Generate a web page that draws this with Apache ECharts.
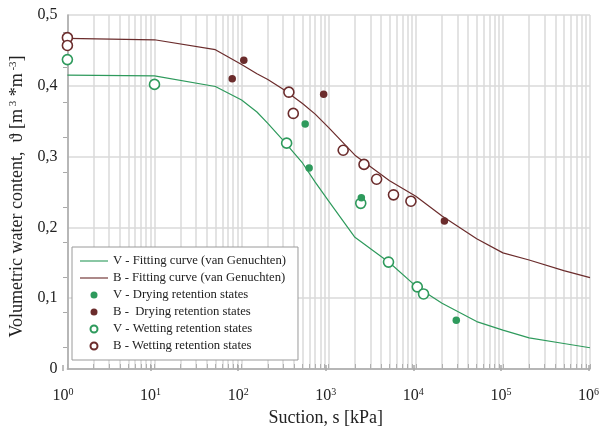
<!DOCTYPE html>
<html>
<head>
<meta charset="utf-8">
<script src="https://cdn.jsdelivr.net/npm/echarts@6/dist/echarts.min.js"></script>
<style>
  html, body { margin: 0; padding: 0; background: #fff; }
  #chart { width: 602px; height: 432px; }
</style>
</head>
<body>
<div id="chart"></div>
<script>
// Suction [kPa] and volumetric water content for the fitted retention curves
const curveSuction = [1, 10, 50, 100, 150, 200, 300, 500, 700, 1000, 2000, 5000, 10000, 20000, 50000, 100000, 200000, 500000, 1000000];
const curveV = [0.415, 0.414, 0.399, 0.380, 0.363, 0.347, 0.323, 0.291, 0.264, 0.237, 0.186, 0.150, 0.117, 0.093, 0.067, 0.055, 0.044, 0.036, 0.030];
const curveB = [0.467, 0.465, 0.451, 0.430, 0.417, 0.409, 0.395, 0.375, 0.360, 0.341, 0.302, 0.266, 0.244, 0.216, 0.184, 0.164, 0.154, 0.139, 0.129];

// Measured retention states: suction [kPa]
const vDryS = [537, 596, 2371, 29150];
const vDryT = [0.346, 0.284, 0.242, 0.069];
const bDryS = [78, 106, 875, 21300];
const bDryT = [0.410, 0.436, 0.388, 0.209];
const vWetS = [1, 10, 329, 2333, 4860, 10400, 12270];
const vWetT = [0.437, 0.402, 0.319, 0.234, 0.151, 0.116, 0.106];
const bWetS = [1, 1, 349, 392, 1466, 2543, 3548, 5546, 8790];
const bWetT = [0.468, 0.457, 0.391, 0.361, 0.309, 0.289, 0.268, 0.246, 0.237];

// Axis ticks
const xDecadeExponents = [0, 1, 2, 3, 4, 5, 6];
const yTickLabels = ['0', '0,1', '0,2', '0,3', '0,4', '0,5'];
const yMinorTicks = [0.025, 0.075, 0.125, 0.175, 0.225, 0.275, 0.325, 0.375, 0.425, 0.475];

const seriesNames = [
  'V - Fitting curve (van Genuchten)',
  'B - Fitting curve (van Genuchten)',
  'V - Drying retention states',
  'B -  Drying retention states',
  'V - Wetting retention states',
  'B - Wetting retention states'
];

const GREEN = '#2e9a5c';
const BROWN = '#6b2c2c';
const FONT = 'Liberation Serif';
// thin horizontal bar used as the legend key for the fitted curves
const LINE_ICON = 'path://M0 0H30V1.2H0Z';

const zip = (xs, ys) => xs.map((x, i) => [x, ys[i]]);
const decades = xDecadeExponents.map(e => Math.pow(10, e));
// every 1..9 x 10^k position for the fine log grid
const logGrid = [];
for (let e = 0; e < 6; e++) {
  for (let m = 1; m < 10; m++) logGrid.push(m * Math.pow(10, e));
}
logGrid.push(Math.pow(10, 6));

const gridRect = { left: 63, right: 12, top: 15, bottom: 63 };

const chart = echarts.init(document.getElementById('chart'), null, { renderer: 'canvas' });
chart.setOption({
  animation: false,
  backgroundColor: '#fff',
  textStyle: { fontFamily: FONT },
  grid: [
    Object.assign({ containLabel: false }, gridRect),
    Object.assign({ containLabel: false }, gridRect)
  ],
  xAxis: [
    {
      type: 'log', logBase: 10, min: 1, max: 1000000, gridIndex: 0,
      axisLine: { show: true, lineStyle: { color: '#a8a8a8', width: 1.5 } },
      axisTick: { show: true, inside: true, length: 5, customValues: logGrid, lineStyle: { color: '#b0b0b0', width: 1 } },
      axisLabel: { show: false },
      splitLine: { show: true, lineStyle: { color: '#dadada', width: 1.5 } }
    },
    {
      type: 'log', logBase: 10, min: 1, max: 1000000, gridIndex: 1,
      axisLine: { show: false },
      axisTick: { show: true, inside: false, length: 6, customValues: decades, lineStyle: { color: '#a8a8a8', width: 1.5 } },
      axisLabel: {
        show: true, customValues: decades, margin: 22,
        formatter: v => '{b|10}{sup|' + Math.round(Math.log10(v)) + '}',
        rich: {
          b: { fontFamily: FONT, fontSize: 16, color: '#222', verticalAlign: 'bottom' },
          sup: { fontFamily: FONT, fontSize: 10, color: '#222', verticalAlign: 'bottom', padding: [0, 0, 7, 0] }
        }
      },
      splitLine: { show: false },
      name: 'Suction, s [kPa]',
      nameLocation: 'middle', nameGap: 35,
      nameTextStyle: { fontFamily: FONT, fontSize: 18, color: '#222' }
    }
  ],
  yAxis: [
    {
      type: 'value', min: 0, max: 0.5, interval: 0.1, gridIndex: 0,
      axisLine: { show: true, lineStyle: { color: '#a8a8a8', width: 1.5 } },
      axisTick: { show: false },
      axisLabel: {
        margin: 10, fontFamily: FONT, fontSize: 16, color: '#222',
        formatter: v => yTickLabels[Math.round(v * 10)]
      },
      splitLine: { show: true, lineStyle: { color: '#dadada', width: 1.5 } },
      name: 'Volumetric water content,  ϑ [m{sup| 3} *m{sup| -3}]',
      nameLocation: 'middle', nameGap: 38, nameRotate: 90,
      nameTextStyle: {
        fontFamily: FONT, fontSize: 18, color: '#222',
        padding: [0, 9, 0, 0],
        rich: {
          sup: { fontFamily: FONT, fontSize: 11, color: '#222', verticalAlign: 'bottom', padding: [0, 0, 8, 0] }
        }
      }
    },
    {
      type: 'value', min: 0, max: 0.5, interval: 0.1, gridIndex: 1,
      axisLine: { show: false },
      axisTick: { show: true, inside: true, length: 4, customValues: yMinorTicks, lineStyle: { color: '#a8a8a8', width: 1 } },
      axisLabel: { show: false },
      splitLine: { show: false }
    }
  ],
  legend: {
    orient: 'vertical',
    left: 72, top: 247,
    width: 229,
    padding: [7, 12, 7, 8],
    itemGap: 3,
    itemWidth: 28, itemHeight: 7,
    backgroundColor: '#fff',
    borderColor: '#9a9a9a', borderWidth: 1,
    textStyle: { fontFamily: FONT, fontSize: 12.7, color: '#222', lineHeight: 14 },
    data: [
      { name: seriesNames[0], icon: LINE_ICON },
      { name: seriesNames[1], icon: LINE_ICON },
      { name: seriesNames[2] },
      { name: seriesNames[3] },
      { name: seriesNames[4] },
      { name: seriesNames[5] }
    ]
  },
  series: [
    {
      name: seriesNames[0], type: 'line', xAxisIndex: 0, yAxisIndex: 0,
      data: zip(curveSuction, curveV), symbol: 'none', smooth: false,
      lineStyle: { color: GREEN, width: 1.2 }, itemStyle: { color: GREEN }, z: 3
    },
    {
      name: seriesNames[1], type: 'line', xAxisIndex: 0, yAxisIndex: 0,
      data: zip(curveSuction, curveB), symbol: 'none', smooth: false,
      lineStyle: { color: BROWN, width: 1.2 }, itemStyle: { color: BROWN }, z: 3
    },
    {
      name: seriesNames[2], type: 'scatter', xAxisIndex: 0, yAxisIndex: 0,
      data: zip(vDryS, vDryT), symbol: 'circle', symbolSize: 7.5,
      itemStyle: { color: GREEN, opacity: 1 }, z: 5
    },
    {
      name: seriesNames[3], type: 'scatter', xAxisIndex: 0, yAxisIndex: 0,
      data: zip(bDryS, bDryT), symbol: 'circle', symbolSize: 7.5,
      itemStyle: { color: BROWN, opacity: 1 }, z: 5
    },
    {
      name: seriesNames[4], type: 'scatter', xAxisIndex: 0, yAxisIndex: 0,
      data: zip(vWetS, vWetT), symbol: 'circle', symbolSize: 10,
      itemStyle: { color: '#fff', borderColor: GREEN, borderWidth: 1.6, opacity: 1 }, z: 4
    },
    {
      name: seriesNames[5], type: 'scatter', xAxisIndex: 0, yAxisIndex: 0,
      data: zip(bWetS, bWetT), symbol: 'circle', symbolSize: 10,
      itemStyle: { color: '#fff', borderColor: BROWN, borderWidth: 1.6, opacity: 1 }, z: 4
    }
  ]
});
</script>
</body>
</html>
